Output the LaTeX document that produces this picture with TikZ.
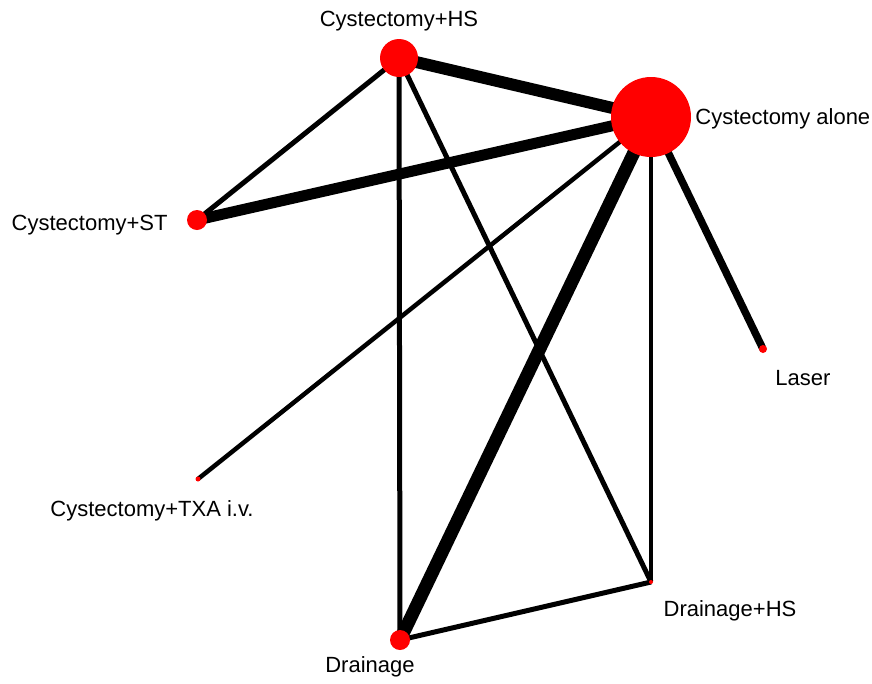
\documentclass[tikz,border=0pt]{standalone}
\usepackage{fontspec}
\setmainfont{Liberation Sans}
\usetikzlibrary{positioning,backgrounds}

\begin{document}
\begin{tikzpicture}[x=1pt,y=-1pt,
    treat/.style={circle, fill=red, inner sep=0pt},
    tlabel/.style={inner sep=0pt, font=\fontsize{22}{26}\selectfont},
    link/.style={line width=#1, black}]
        \useasboundingbox (0,0) rectangle (872,683);
        % Nodes
        \node [treat,minimum size=38pt] (hs) at (399,58) {};
        \node [treat,minimum size=80pt] (alone) at (651,117) {};
        \node [treat,minimum size=20pt] (st) at (197,220) {};
        \node [treat,minimum size=8pt] (laser) at (763,349) {};
        \node [treat,minimum size=5pt] (txa) at (198,479) {};
        \node [treat,minimum size=4pt] (drhs) at (651,582) {};
        \node [treat,minimum size=20pt] (drain) at (400,640) {};

        % Labels
        \node [tlabel,above=8pt of hs] (hslabel) {Cystectomy+HS};
        \node [tlabel,right=4pt of alone,yshift=-2pt] (alonelabel) {Cystectomy alone};
        \node [tlabel,left=19pt of st,yshift=-5pt] (stlabel) {Cystectomy+ST};
        \node [tlabel,below=17pt of laser,xshift=40pt] (laserlabel) {Laser};
        \node [tlabel,below=19pt of txa,xshift=-46pt] (txalabel) {Cystectomy+TXA i.v.};
        \node [tlabel,below=16pt of drhs,xshift=79pt] (drhslabel) {Drainage+HS};
        \node [tlabel,below=6pt of drain,xshift=-30pt] (drainlabel) {Drainage};

        % Edges
        \begin{pgfonlayer}{background}
        \draw[link=12pt] (hs.center) -- (alone.center);
        \draw[link=5pt] (hs.center) -- (st.center);
        \draw[link=5pt] (hs.center) -- (drain.center);
        \draw[link=5pt] (hs.center) -- (drhs.center);
        \draw[link=11pt] (alone.center) -- (st.center);
        \draw[link=4.5pt] (alone.center) -- (txa.center);
        \draw[link=13pt] (alone.center) -- (drain.center);
        \draw[link=4.5pt] (alone.center) -- (drhs.center);
        \draw[link=7.5pt] (alone.center) -- (laser.center);
        \draw[link=5pt] (drain.center) -- (drhs.center);
        \end{pgfonlayer}
\end{tikzpicture}
\end{document}
